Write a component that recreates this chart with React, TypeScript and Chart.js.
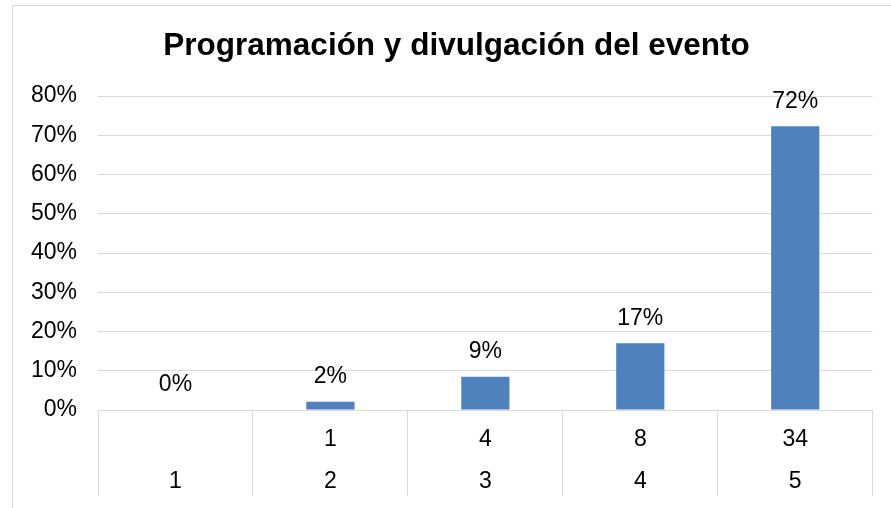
import React, { useEffect, useRef } from "react";
import { Chart, registerables } from "chart.js";

Chart.register(...registerables);

const TITLE = "Programación y divulgación del evento";
const categories = ["1", "2", "3", "4", "5"];
const counts = ["", "1", "4", "8", "34"];
const percentages = [0, 2.1, 8.5, 17.0, 72.3];
const yTicks = [0, 10, 20, 30, 40, 50, 60, 70, 80];

const FONT = "'Liberation Sans', Arial, sans-serif";
const GRID = "#d9d9d9";
const BAR = "#4f81bd";

const valueLabels = {
  id: "valueLabels",
  afterDatasetsDraw(chart: any) {
    const ctx = chart.ctx;
    const meta = chart.getDatasetMeta(0);
    ctx.save();
    ctx.font = `23px ${FONT}`;
    ctx.fillStyle = "#000";
    ctx.textAlign = "center";
    ctx.textBaseline = "middle";
    meta.data.forEach((el: any, i: number) => {
      ctx.fillText(`${Math.round(percentages[i])}%`, el.x, el.y - 25);
    });
    ctx.restore();
  },
};

const tableLabels = {
  id: "tableLabels",
  afterDraw(chart: any) {
    const ctx = chart.ctx;
    const x = chart.scales.x;
    const base = chart.chartArea.bottom;
    ctx.save();
    ctx.font = `23px ${FONT}`;
    ctx.fillStyle = "#000";
    ctx.textAlign = "center";
    ctx.textBaseline = "middle";
    categories.forEach((c, i) => {
      const px = x.getPixelForValue(i);
      if (counts[i]) ctx.fillText(counts[i], px, base + 30);
      ctx.fillText(c, px, base + 72);
    });
    ctx.restore();
  },
};

export default function App() {
  const ref = useRef<HTMLCanvasElement>(null);
  useEffect(() => {
    if (!ref.current) return;
    const chart = new Chart(ref.current, {
      type: "bar",
      data: {
        labels: categories,
        datasets: [
          {
            data: percentages,
            backgroundColor: BAR,
            barPercentage: 0.311,
            categoryPercentage: 1,
          },
        ],
      },
      options: {
        animation: false,
        responsive: false,
        maintainAspectRatio: false,
        layout: { padding: { left: 0, right: 0, top: 0, bottom: 12 } },
        plugins: {
          legend: { display: false },
          tooltip: { enabled: false },
          title: {
            display: true,
            text: TITLE,
            color: "#000",
            font: { family: FONT, size: 31.5, weight: "bold", lineHeight: 1.2 },
            padding: { top: 22, bottom: 31.3 },
          },
        },
        scales: {
          x: {
            grid: {
              offset: true,
              drawOnChartArea: false,
              drawTicks: true,
              tickLength: 86,
              color: GRID,
              lineWidth: 1,
            },
            border: { display: true, color: GRID },
            ticks: { display: false },
          },
          y: {
            min: 0,
            max: 80,
            afterBuildTicks: (axis: any) => {
              axis.ticks = yTicks.map((v) => ({ value: v }));
            },
            afterFit: (axis: any) => {
              axis.width = 86;
            },
            grid: { color: GRID, lineWidth: 1, drawTicks: false },
            border: { display: false },
            ticks: {
              color: "#000",
              font: { family: FONT, size: 23 },
              padding: 21,
              callback: (v: any) => `${v}%`,
            },
          },
          spacer: {
            type: "linear",
            position: "right",
            display: true,
            grid: { display: false, drawTicks: false },
            border: { display: false },
            ticks: { display: false },
            afterFit: (axis: any) => {
              axis.width = 28.3;
            },
          },
        },
      },
      plugins: [valueLabels, tableLabels],
    });
    return () => chart.destroy();
  }, []);

  return (
    <div
      style={{
        position: "fixed",
        left: 0,
        top: 0,
        width: 891,
        height: 508,
        overflow: "hidden",
        background: "#fff",
      }}
    >
      <div
        style={{
          position: "absolute",
          left: 12,
          top: 5,
          width: 900,
          height: 520,
          border: `1px solid ${GRID}`,
          boxSizing: "border-box",
        }}
      />
      <canvas
        ref={ref}
        width={889}
        height={503}
        style={{ position: "absolute", left: 12, top: 5, width: 889, height: 503 }}
      />
    </div>
  );
}
